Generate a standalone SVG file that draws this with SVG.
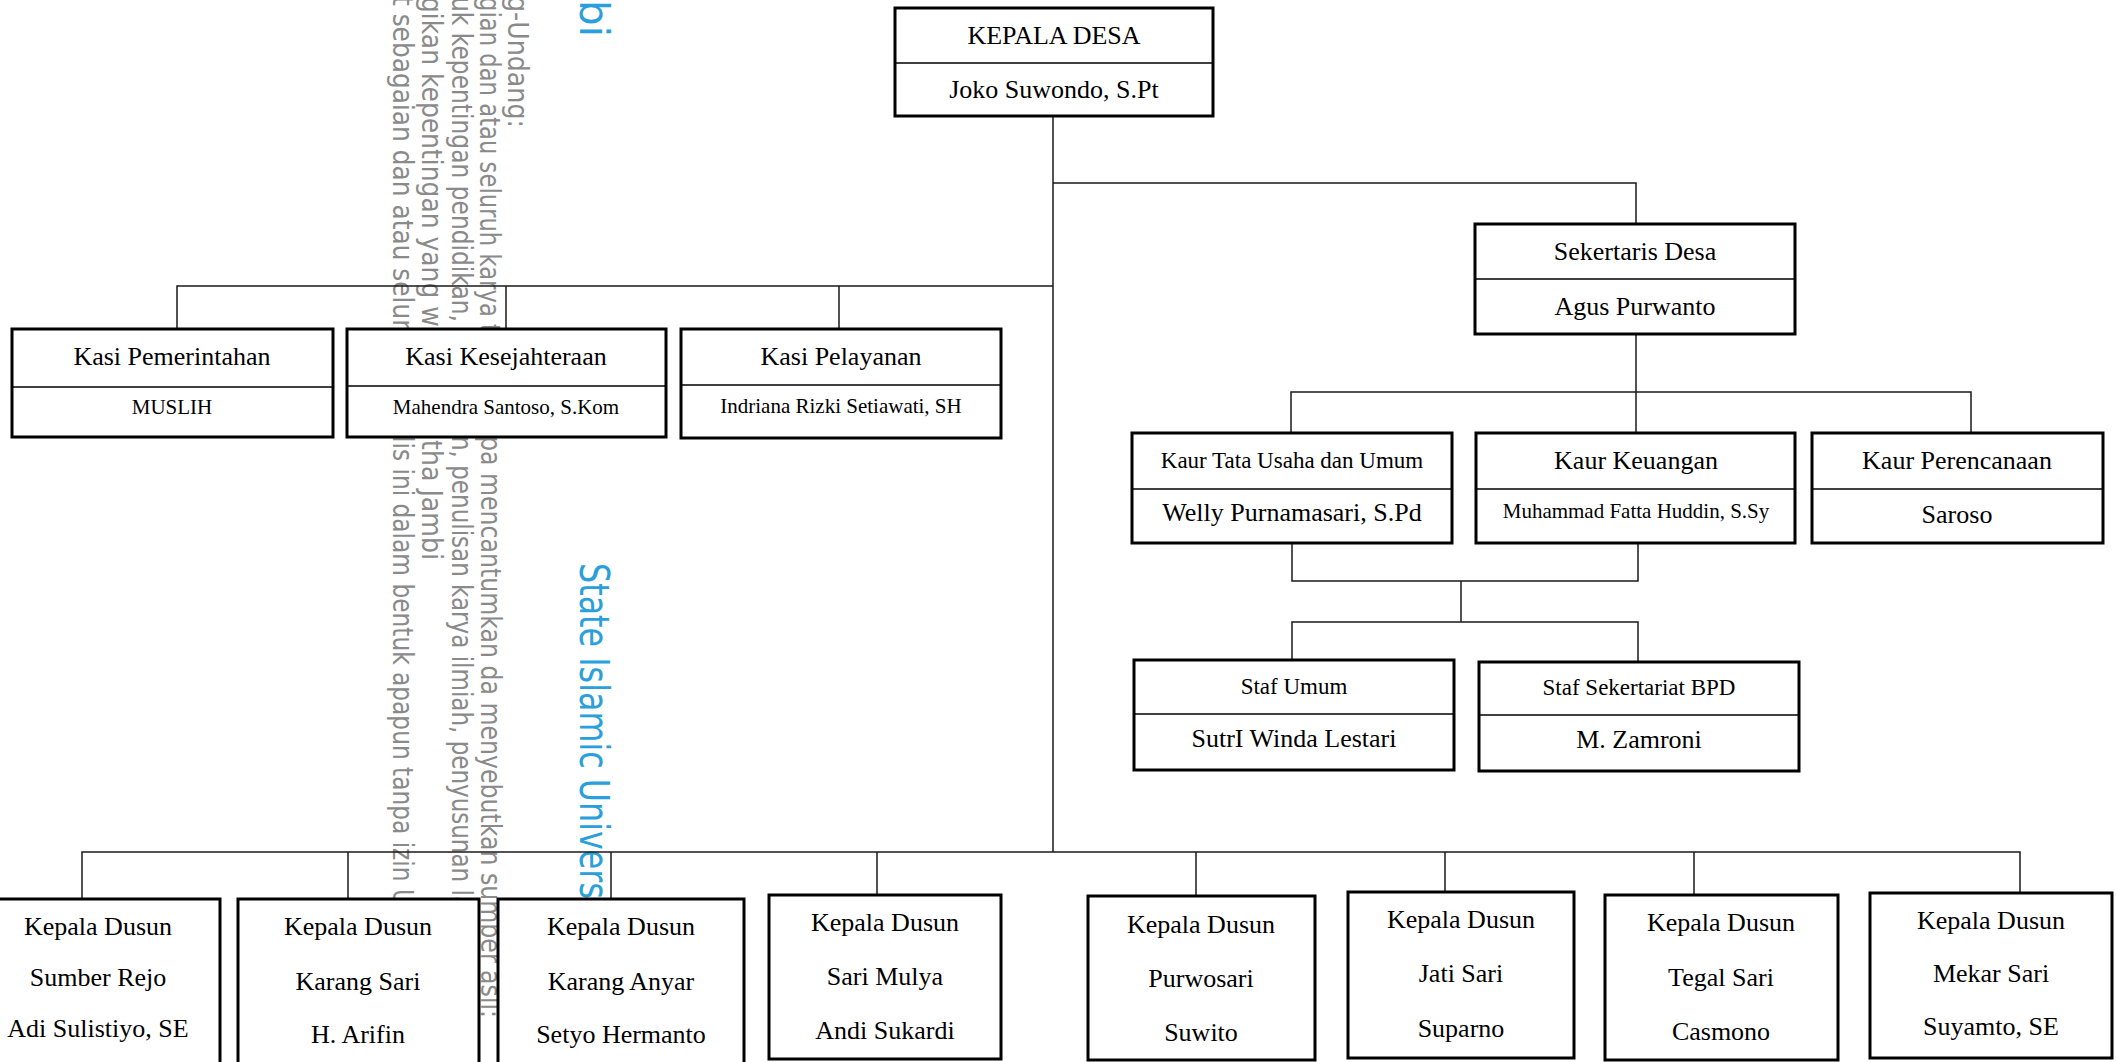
<svg xmlns="http://www.w3.org/2000/svg" width="2116" height="1062" viewBox="0 0 2116 1062">
<style>
.bg{fill:#ffffff}
.box{fill:#ffffff;stroke:#000000;stroke-width:3}
.div{stroke:#000000;stroke-width:1.5;fill:none}
.con{stroke:#1a1a1a;stroke-width:1.5;fill:none}
.t{font-family:"Liberation Serif","Times New Roman",serif;font-size:26px;fill:#000000;text-anchor:middle}
.s23{font-size:23px}
.s21{font-size:21px}
.wm{font-family:"DejaVu Sans","Noto Sans",sans-serif;font-size:28px;fill:#8a8a8a}
.wb{font-family:"DejaVu Sans","Noto Sans",sans-serif;font-size:41px;fill:#2a9fdc}
</style>
<rect class="bg" x="0" y="0" width="2116" height="1062"/>

<g id="watermark">
<text class="wm" transform="translate(508,-4) rotate(90)" textLength="132" lengthAdjust="spacingAndGlyphs">g-Undang:</text>
<text class="wm" transform="translate(480,-3) rotate(90)" textLength="336" lengthAdjust="spacingAndGlyphs">gian dan atau seluruh karya t</text>
<text class="wm" transform="translate(452,-3) rotate(90)" textLength="325" lengthAdjust="spacingAndGlyphs">uk kepentingan pendidikan,</text>
<text class="wm" transform="translate(422,-3) rotate(90)" textLength="345" lengthAdjust="spacingAndGlyphs">gikan kepentingan yang wa</text>
<text class="wm" transform="translate(393,-4) rotate(90)" textLength="365" lengthAdjust="spacingAndGlyphs">t sebagaian dan atau seluruh</text>
<text class="wm" transform="translate(481,436) rotate(90)" textLength="582" lengthAdjust="spacingAndGlyphs">pa mencantumkan da menyebutkan sumber asli:</text>
<text class="wm" transform="translate(452,436) rotate(90)" textLength="474" lengthAdjust="spacingAndGlyphs">n, penulisan karya ilmiah, penyusunan la</text>
<text class="wm" transform="translate(422,440) rotate(90)" textLength="120" lengthAdjust="spacingAndGlyphs">tha Jambi</text>
<text class="wm" transform="translate(393,436) rotate(90)" textLength="470" lengthAdjust="spacingAndGlyphs">lis ini dalam bentuk apapun tanpa izin U</text>
<text class="wb" transform="translate(580,0) rotate(90)" textLength="37" lengthAdjust="spacingAndGlyphs">bi</text>
<text class="wb" transform="translate(580,563) rotate(90)" textLength="336" lengthAdjust="spacingAndGlyphs">State Islamic Univers</text>
</g>

<g id="connectors">
<path class="con" d="M1053,116 V852"/>
<path class="con" d="M1053,183 H1636 V224"/>
<path class="con" d="M177,329 V286 H1053"/>
<path class="con" d="M506,286 V329"/>
<path class="con" d="M839,286 V329"/>
<path class="con" d="M1636,334 V433"/>
<path class="con" d="M1291,433 V392 H1971 V433"/>
<path class="con" d="M1292,543 V581 H1638 V543"/>
<path class="con" d="M1461,581 V622"/>
<path class="con" d="M1292,660 V622 H1638 V662"/>
<path class="con" d="M82,899 V852 H2020 V893"/>
<path class="con" d="M348,852 V899"/>
<path class="con" d="M611,852 V899"/>
<path class="con" d="M877,852 V895"/>
<path class="con" d="M1196,852 V896"/>
<path class="con" d="M1445,852 V892"/>
<path class="con" d="M1694,852 V895"/>
</g>

<g id="kepala-desa">
<rect class="box" x="895" y="8" width="318" height="108"/>
<line class="div" x1="895" y1="63" x2="1213" y2="63"/>
<text class="t" x="1054" y="44">KEPALA DESA</text>
<text class="t" x="1054" y="98">Joko Suwondo, S.Pt</text>
</g>

<g id="sekertaris-desa">
<rect class="box" x="1475" y="224" width="320" height="110"/>
<line class="div" x1="1475" y1="279" x2="1795" y2="279"/>
<text class="t" x="1635" y="260">Sekertaris Desa</text>
<text class="t" x="1635" y="315">Agus Purwanto</text>
</g>

<g id="kasi-pemerintahan">
<rect class="box" x="12" y="329" width="321" height="108"/>
<line class="div" x1="12" y1="387" x2="333" y2="387"/>
<text class="t" x="172" y="365">Kasi Pemerintahan</text>
<text class="t s21" x="172" y="414">MUSLIH</text>
</g>

<g id="kasi-kesejahteraan">
<rect class="box" x="347" y="329" width="319" height="108"/>
<line class="div" x1="347" y1="386" x2="666" y2="386"/>
<text class="t" x="506" y="365">Kasi Kesejahteraan</text>
<text class="t s21" x="506" y="414">Mahendra Santoso, S.Kom</text>
</g>

<g id="kasi-pelayanan">
<rect class="box" x="681" y="329" width="320" height="109"/>
<line class="div" x1="681" y1="385" x2="1001" y2="385"/>
<text class="t" x="841" y="365">Kasi Pelayanan</text>
<text class="t s21" x="841" y="413">Indriana Rizki Setiawati, SH</text>
</g>

<g id="kaur-tata-usaha">
<rect class="box" x="1132" y="433" width="320" height="110"/>
<line class="div" x1="1132" y1="489" x2="1452" y2="489"/>
<text class="t s23" x="1292" y="468">Kaur Tata Usaha dan Umum</text>
<text class="t" x="1292" y="521">Welly Purnamasari, S.Pd</text>
</g>

<g id="kaur-keuangan">
<rect class="box" x="1476" y="433" width="319" height="110"/>
<line class="div" x1="1476" y1="489" x2="1795" y2="489"/>
<text class="t" x="1636" y="469">Kaur Keuangan</text>
<text class="t s21" x="1636" y="518">Muhammad Fatta Huddin, S.Sy</text>
</g>

<g id="kaur-perencanaan">
<rect class="box" x="1812" y="433" width="291" height="110"/>
<line class="div" x1="1812" y1="489" x2="2103" y2="489"/>
<text class="t" x="1957" y="469">Kaur Perencanaan</text>
<text class="t" x="1957" y="523">Saroso</text>
</g>

<g id="staf-umum">
<rect class="box" x="1134" y="660" width="320" height="110"/>
<line class="div" x1="1134" y1="714" x2="1454" y2="714"/>
<text class="t s23" x="1294" y="694">Staf Umum</text>
<text class="t" x="1294" y="747">SutrI Winda Lestari</text>
</g>

<g id="staf-sekertariat-bpd">
<rect class="box" x="1479" y="662" width="320" height="109"/>
<line class="div" x1="1479" y1="715" x2="1799" y2="715"/>
<text class="t s23" x="1639" y="695">Staf Sekertariat BPD</text>
<text class="t" x="1639" y="748">M. Zamroni</text>
</g>

<g id="dusun-sumber-rejo">
<rect class="box" x="-24" y="899" width="244" height="180"/>
<text class="t" x="98" y="935">Kepala Dusun</text>
<text class="t" x="98" y="986">Sumber Rejo</text>
<text class="t" x="98" y="1037">Adi Sulistiyo, SE</text>
</g>

<g id="dusun-karang-sari">
<rect class="box" x="238" y="899" width="241" height="180"/>
<text class="t" x="358" y="935">Kepala Dusun</text>
<text class="t" x="358" y="990">Karang Sari</text>
<text class="t" x="358" y="1043">H. Arifin</text>
</g>

<g id="dusun-karang-anyar">
<rect class="box" x="498" y="899" width="246" height="180"/>
<text class="t" x="621" y="935">Kepala Dusun</text>
<text class="t" x="621" y="990">Karang Anyar</text>
<text class="t" x="621" y="1043">Setyo Hermanto</text>
</g>

<g id="dusun-sari-mulya">
<rect class="box" x="769" y="895" width="232" height="164"/>
<text class="t" x="885" y="931">Kepala Dusun</text>
<text class="t" x="885" y="985">Sari Mulya</text>
<text class="t" x="885" y="1039">Andi Sukardi</text>
</g>

<g id="dusun-purwosari">
<rect class="box" x="1088" y="896" width="227" height="164"/>
<text class="t" x="1201" y="933">Kepala Dusun</text>
<text class="t" x="1201" y="987">Purwosari</text>
<text class="t" x="1201" y="1041">Suwito</text>
</g>

<g id="dusun-jati-sari">
<rect class="box" x="1348" y="892" width="226" height="166"/>
<text class="t" x="1461" y="928">Kepala Dusun</text>
<text class="t" x="1461" y="982">Jati Sari</text>
<text class="t" x="1461" y="1037">Suparno</text>
</g>

<g id="dusun-tegal-sari">
<rect class="box" x="1605" y="895" width="233" height="165"/>
<text class="t" x="1721" y="931">Kepala Dusun</text>
<text class="t" x="1721" y="986">Tegal Sari</text>
<text class="t" x="1721" y="1040">Casmono</text>
</g>

<g id="dusun-mekar-sari">
<rect class="box" x="1870" y="893" width="242" height="165"/>
<text class="t" x="1991" y="929">Kepala Dusun</text>
<text class="t" x="1991" y="982">Mekar Sari</text>
<text class="t" x="1991" y="1035">Suyamto, SE</text>
</g>
</svg>
